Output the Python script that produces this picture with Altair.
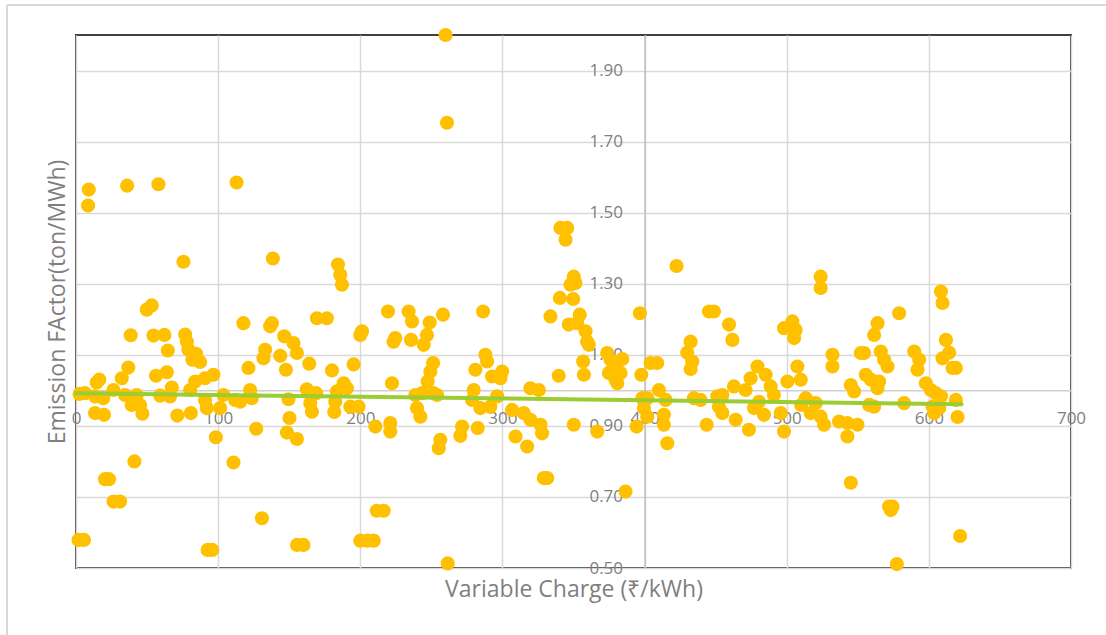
import altair as alt
import pandas as pd

# Variable charge (x) and emission factor (y)
charge = [
    8.5, 9, 36, 58, 113, 260, 261, 422.5,
    75.6, 49.8, 53.3, 38.5, 54.5, 62.2, 64.6, 76.8, 78, 79.1, 84.5, 87.3, 81.9,
    36.8, 32.2, 16.4, 14.6, 56.3, 63.9, 67.4, 96.7, 90.8, 83.8, 80.3,
    2.5, 6.3, 13.4, 19.2, 26.3, 34.5, 42.7, 45.1, 39.2, 59.2, 66.2, 90.8, 92, 103.7, 101.4, 112,
    13.4, 19.7, 46.7, 71.3, 80.8, 98.4, 110.8, 41.1, 20.4, 23.2, 26.4, 31, 1.8, 5.6, 92.6, 95.8,
    138.5, 184.3, 185.9, 187.1, 117.8, 137.8, 136.6, 169.5, 176.5, 201.2, 200, 219.5, 224.6, 223.4,
    146.5, 153, 155.4, 133.1, 131.9, 143.7, 121.3, 147.7, 164.1, 180.1, 195.3, 222.3,
    188.3, 190.6, 183.5, 162.4, 169, 122.5, 115.5, 123.7, 149.5, 164.8, 166, 182.4, 181.7, 193, 198.8,
    150.2, 148.4, 155.4, 126.8, 210.6, 221.1, 221.1, 130.8, 211.6, 216.5, 155.5, 160, 200, 205, 209.5,
    234, 236.4, 248.8, 258.2, 246.9, 244.6, 235.7, 286.4, 251.2, 249.3, 247.4,
    238.7, 243.5, 251.6, 254, 239.9, 242.3, 256.3, 255.2, 271.6, 270.4, 282.6,
    279.8, 278.7, 284.5, 291.5, 296.3, 281, 288, 289.2, 292.7, 299.8, 298.6,
    306.8, 315, 309.2, 317.4, 319.7, 326.8, 327.9, 319.7, 325.6, 329.1, 331.5, 261.5,
    340.8, 345.6, 344.4, 350.2, 351.4, 347.9, 340.4, 349.8,
    333.8, 346.7, 354.4, 352.6, 358.5, 359.6, 360.8, 356.8, 357.3, 339.6,
    373.7, 376.1, 384.3, 378.4, 374.9, 383.1, 379.6, 380.8, 396.7, 397.7, 404.2, 408.9,
    398.4, 401.9, 399.5, 401.9, 410.1, 414.8, 413.6, 413.6, 416, 394.4, 350.2, 366.7, 386.6,
    432.4, 430, 433.6, 432.4, 445.3, 448.8, 434.7, 439.4, 443.7, 451.2, 452.3,
    523.9, 523.9, 459.4, 461.8, 498.1, 504, 505.2, 506.3,
    479.4, 485.2, 474.6, 488.7, 507.5, 509.9, 500.5,
    462.9, 454.7, 471.1, 491, 480.5, 477, 484, 454.7, 464.1, 473.4, 495.8, 498.1,
    513.4, 520.4, 516.9, 523.9, 526.3, 510.2, 532.2, 532.2, 536.8, 542.7, 542.7, 549.8,
    545.1, 547.4, 552.1, 554.4, 555.6, 559.2, 561.5, 558, 563.9, 561.5, 563.9, 545.1,
    608.5, 609.6, 579.1, 566.2, 568.5, 570.9, 589.7, 593.2, 592,
    612, 614.3, 609.6, 616.7, 619, 565, 582.6,
    597.9, 601.4, 604.9, 608.5, 602.6, 607.3, 603.8, 619, 620.2,
    574.4, 572, 573.2, 577.5, 622,
]
factor = [
    1.52, 1.565, 1.576, 1.58, 1.585, 2.0, 1.753, 1.35,
    1.362, 1.227, 1.239, 1.155, 1.154, 1.156, 1.112, 1.157, 1.137, 1.114, 1.103, 1.08, 1.086,
    1.064, 1.034, 1.03, 1.022, 1.041, 1.051, 1.008, 1.044, 1.034, 1.025, 1.001,
    0.99, 0.992, 0.983, 0.978, 1.001, 0.987, 0.987, 0.959, 0.959, 0.985, 0.983, 0.973, 0.95, 0.987, 0.95, 0.973,
    0.936, 0.931, 0.934, 0.929, 0.936, 0.868, 0.797, 0.80, 0.75, 0.75, 0.687, 0.687, 0.579, 0.579, 0.551, 0.551,
    1.371, 1.354, 1.325, 1.297, 1.189, 1.189, 1.18, 1.203, 1.203, 1.166, 1.156, 1.222, 1.147, 1.137,
    1.152, 1.133, 1.105, 1.114, 1.09, 1.097, 1.063, 1.058, 1.075, 1.056, 1.073, 1.02,
    1.02, 1.006, 0.997, 1.003, 0.992, 1.001, 0.968, 0.978, 0.975, 0.964, 0.94, 0.968, 0.939, 0.954, 0.954,
    0.922, 0.881, 0.863, 0.892, 0.898, 0.908, 0.884, 0.64, 0.661, 0.661, 0.565, 0.565, 0.577, 0.577, 0.577,
    1.222, 1.194, 1.191, 1.213, 1.156, 1.128, 1.142, 1.222, 1.077, 1.053, 1.025,
    0.987, 0.992, 0.992, 0.987, 0.95, 0.926, 0.861, 0.837, 0.898, 0.872, 0.894,
    1.001, 0.973, 0.95, 0.954, 0.983, 1.058, 1.1, 1.081, 1.039, 1.053, 1.034,
    0.945, 0.936, 0.87, 0.842, 0.917, 0.903, 0.879, 1.006, 1.001, 0.753, 0.753, 0.513,
    1.457, 1.457, 1.424, 1.32, 1.302, 1.297, 1.26, 1.257,
    1.208, 1.185, 1.213, 1.189, 1.166, 1.137, 1.128, 1.081, 1.044, 1.041,
    1.105, 1.086, 1.088, 1.063, 1.049, 1.049, 1.03, 1.02, 1.217, 1.044, 1.077, 1.077,
    0.978, 0.978, 0.95, 0.926, 1.001, 0.973, 0.931, 0.903, 0.851, 0.898, 0.903, 0.884, 0.715,
    1.137, 1.106, 1.081, 1.06, 1.222, 1.222, 0.978, 0.973, 0.903, 0.983, 0.954,
    1.32, 1.288, 1.185, 1.142, 1.175, 1.194, 1.147, 1.17,
    1.067, 1.044, 1.034, 1.011, 1.067, 1.03, 1.025,
    1.011, 0.987, 1.001, 0.987, 0.968, 0.95, 0.931, 0.936, 0.917, 0.889, 0.936, 0.884,
    0.978, 0.964, 0.936, 0.926, 0.903, 0.959, 1.1, 1.067, 0.912, 0.908, 0.87, 0.903,
    1.015, 0.997, 1.105, 1.105, 1.044, 1.03, 0.954, 0.959, 1.189, 1.156, 1.006, 0.74,
    1.278, 1.246, 1.217, 1.109, 1.086, 1.067, 1.109, 1.086, 1.058,
    1.142, 1.106, 1.09, 1.063, 1.063, 1.025, 0.964,
    1.02, 1.001, 0.992, 0.983, 0.954, 0.95, 0.936, 0.973, 0.925,
    0.673, 0.673, 0.663, 0.511, 0.59,
]

# Linear trendline endpoints as drawn in the reference
trend_charge = [0, 623]
trend_factor = [0.992, 0.961]

x_ticks = [0, 100, 200, 300, 400, 500, 600, 700]
y_ticks = [0.5, 0.7, 0.9, 1.1, 1.3, 1.5, 1.7, 1.9]

assert len(charge) == len(factor)

pts = pd.DataFrame({"charge": charge, "factor": factor})
trend = pd.DataFrame({"charge": trend_charge, "factor": trend_factor})

W, H = 995, 533
X_DOM = [0, 700]
Y_DOM = [0.5, 2.0]
X_CROSS = 1.0   # horizontal axis crosses at this factor
Y_CROSS = 400   # vertical axis crosses at this charge

x_off = -((X_CROSS - Y_DOM[0]) / (Y_DOM[1] - Y_DOM[0])) * H
y_off = -((Y_CROSS - X_DOM[0]) / (X_DOM[1] - X_DOM[0])) * W

FONT = "Open Sans"
GREY = "#7f7f7f"
GRID = "#d9d9d9"

x_scale = alt.Scale(domain=X_DOM, nice=False, zero=False)
y_scale = alt.Scale(domain=Y_DOM, nice=False, zero=False)

x_axis = alt.Axis(
    values=x_ticks, offset=x_off, grid=True, gridColor=GRID, gridWidth=1.5,
    domainColor="#cfcfcf", domainWidth=1.5, ticks=False,
    labelPadding=20, labelFont=FONT, labelFontSize=17, labelColor=GREY,
    labelFlush=False, labelOverlap=False,
    title="Variable Charge (₹/kWh)", titleFont=FONT, titleFontSize=23,
    titleFontWeight="normal", titleColor=GREY,
    titleX=W / 2, titleY=-x_off + 21, titleBaseline="middle", titleAlign="center",
)
y_axis = alt.Axis(
    values=y_ticks, format=".2f", offset=y_off, grid=True, gridColor=GRID, gridWidth=1.5,
    domainColor="#bfbfbf", domainWidth=1.5, ticks=False,
    labelPadding=22, labelFont=FONT, labelFontSize=17, labelColor=GREY,
    labelOverlap=False, labelBaseline="middle",
    title="Emission FActor(ton/MWh)", titleFont=FONT, titleFontSize=23,
    titleFontWeight="normal", titleColor=GREY,
    titleX=y_off - 19, titleY=H / 2, titleBaseline="middle", titleAlign="center",
    titleAngle=270,
)

points = alt.Chart(pts).mark_circle(size=200, opacity=1, color="#FFC000").encode(
    x=alt.X("charge:Q", scale=x_scale, axis=x_axis),
    y=alt.Y("factor:Q", scale=y_scale, axis=y_axis),
)

line = alt.Chart(trend).mark_line(color="#9ACD32", strokeWidth=4, strokeCap="round").encode(
    x=alt.X("charge:Q", scale=x_scale),
    y=alt.Y("factor:Q", scale=y_scale),
)

# light outer chart-area border (decoration, like the spreadsheet chart frame)
frame_left = alt.Chart(pts).mark_rule(color=GRID, strokeWidth=2).encode(
    x=alt.value(-69), y=alt.value(-30), y2=alt.value(640)
)
frame_top = alt.Chart(pts).mark_rule(color=GRID, strokeWidth=2).encode(
    x=alt.value(-69), x2=alt.value(1040), y=alt.value(-30)
)

chart = alt.layer(frame_left, frame_top, points, line).properties(
    width=W, height=H,
    autosize=alt.AutoSizeParams(type="none"),
    padding={"left": 76, "top": 35, "right": 35, "bottom": 67},
    background="white",
).configure_view(stroke="#404040", strokeWidth=2)

chart.save("out.html", embed_options={"renderer": "svg", "actions": False})
